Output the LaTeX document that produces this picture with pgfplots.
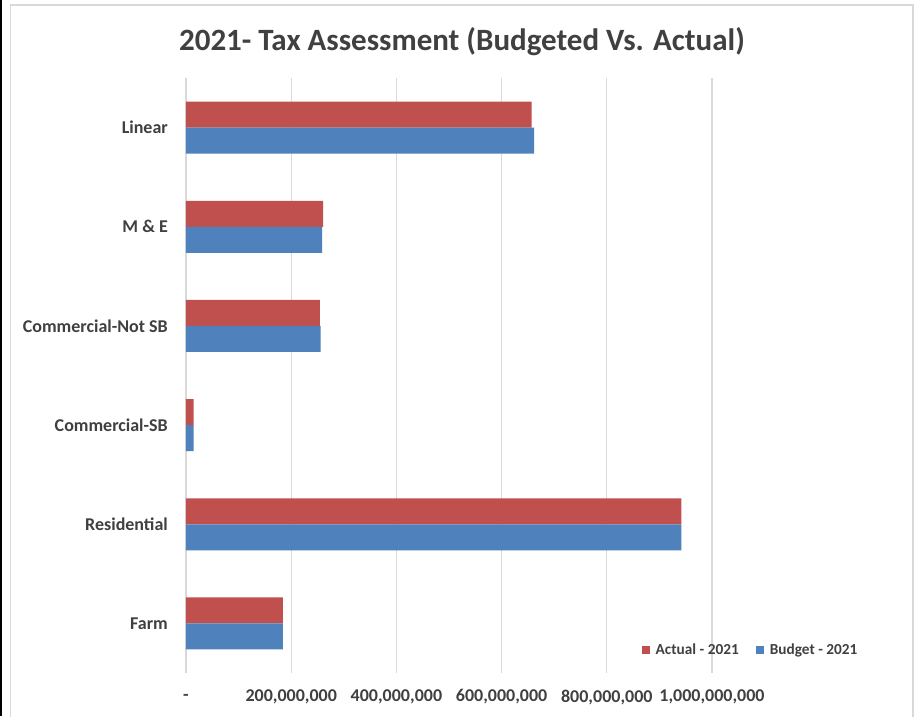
\documentclass[border=0pt]{standalone}
\usepackage{pgfplots}
\pgfplotsset{compat=1.18}
\usepackage{fontspec}
\setmainfont{Carlito}
\definecolor{actualred}{HTML}{C0504D}
\definecolor{budgetblue}{HTML}{4F81BD}
\definecolor{gridgray}{HTML}{D9D9D9}
\definecolor{txtgray}{HTML}{404040}
\definecolor{framegray}{HTML}{D9D9D9}
\begin{document}
\begin{tikzpicture}[x=1pt,y=1pt]
\useasboundingbox (0,0) rectangle (916,716);
\fill[white] (0,0) rectangle (916,716);
\fill[black] (0,0) rectangle (1.5,716);
\draw[framegray, line width=1.2pt] (10.5,-5) -- (10.5,711) -- (913,711) -- (913,-5);
\node[font=\bfseries\fontsize{31}{35}\selectfont, text=txtgray] at (462,674) {2021- Tax Assessment (Budgeted Vs. Actual)};
\begin{axis}[
  at={(186pt,43pt)}, anchor=south west,
  scale only axis, width=526pt, height=595pt,
  xmin=0, xmax=1000000000, ymin=-0.5, ymax=5.5,
  xtick={0,200000000,400000000,600000000,800000000,1000000000},
  xticklabels={{-},{200,000,000},{400,000,000},{600,000,000},{800,000,000},{1,000,000,000}},
  scaled x ticks=false,
  ytick={0,1,2,3,4,5},
  yticklabels={Farm,Residential,Commercial-SB,Commercial-Not SB,M \& E,Linear},
  xmajorgrids, grid style={draw=gridgray, line width=1.2pt},
  axis line style={draw=none},
  major tick length=0pt,
  tick label style={font=\bfseries\fontsize{18}{20}\selectfont, text=txtgray},
  yticklabel style={anchor=east, inner sep=0pt, xshift=-18pt},
  xticklabel style={anchor=center, inner sep=0pt, yshift=-24pt},
  legend style={at={(0.866,0.0387)}, anchor=west, legend columns=2, draw=none, fill=none,
    font=\bfseries\fontsize{15.3}{17}\selectfont, text=txtgray, inner sep=0pt,
    /tikz/every even column/.append style={column sep=15pt}},
  legend image code/.code={\fill[#1] (0pt,-4pt) rectangle (8pt,4pt); \path (12pt,0pt);},
]
\addplot[xbar, bar width=26pt, bar shift=13pt, fill=actualred, draw=none] coordinates {
  (184400000,0) (942000000,1) (14500000,2) (254700000,3) (260500000,4) (657000000,5)};
\addlegendentry{Actual - 2021}
\addplot[xbar, bar width=26pt, bar shift=-13pt, fill=budgetblue, draw=none] coordinates {
  (184400000,0) (942000000,1) (14500000,2) (256000000,3) (259000000,4) (661600000,5)};
\addlegendentry{Budget - 2021}
\end{axis}
\end{tikzpicture}
\end{document}
